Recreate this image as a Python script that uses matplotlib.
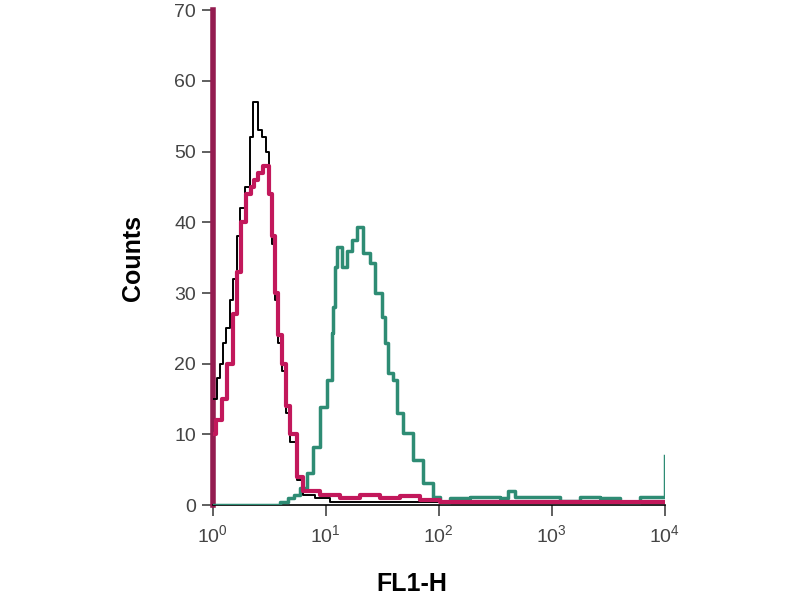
import matplotlib
matplotlib.use("Agg")
import matplotlib.pyplot as plt

plt.rcParams["font.family"] = ["Liberation Sans", "DejaVu Sans"]
plt.rcParams["mathtext.fontset"] = "custom"
plt.rcParams["mathtext.rm"] = "Liberation Sans"
plt.rcParams["mathtext.it"] = "Liberation Sans"

# FL1-H channel values (left bin edges) and counts
black_x = [1.00, 1.08, 1.15, 1.22, 1.30, 1.41, 1.50, 1.63, 1.73, 1.92, 2.13, 2.26, 2.50,
           2.71, 2.98, 3.15, 3.35, 3.55, 3.75, 4.10, 4.45, 4.80, 5.54, 6.25, 8.0, 10.8, 10000]
black_counts = [15, 18, 20, 23, 25, 29, 32, 38, 42, 45, 52, 57, 53,
                52, 50, 44, 37, 29, 23, 19, 13, 9, 3.5, 1.5, 1, 0.4, 0.4]

pink_x = [1.00, 1.06, 1.20, 1.33, 1.50, 1.65, 1.78, 1.96, 2.16, 2.33, 2.51, 2.77, 2.98,
          3.15, 3.35, 3.55, 3.75, 4.10, 4.45, 4.80, 5.54, 6.25, 8.85, 13.3, 20.0, 30.0,
          45.0, 68.0, 102, 10000]
pink_counts = [10, 12, 15, 20, 27, 33, 40, 44, 45, 46, 47, 48, 48,
               44, 38, 30, 24, 20, 14, 10, 4, 2, 1.5, 1, 1.5, 1,
               1.3, 0.8, 0.5, 0.5]

green_x = [1.00, 3.92, 4.6, 5.2, 5.89, 6.79, 7.67, 8.85, 10.2, 11.3, 11.5, 12.0, 12.5,
           13.9, 15.3, 17.0, 18.8, 21.2, 24.5, 27.2, 31.3, 33.3, 35.4, 39.2, 42.5,
           48.0, 58.9, 72.1, 88.5, 102, 125, 188, 347, 408, 471, 1178, 1770, 2660,
           4000, 6010, 9030, 10000]
green_counts = [0, 0.5, 1, 1.5, 2.5, 4.5, 8.2, 13.9, 17.7, 24.3, 28, 33.7, 36.5,
                33.7, 36, 37.5, 39.3, 35.6, 34.2, 30, 26.6, 23, 18.7, 17.7, 13,
                10.2, 6.4, 3.1, 1.1, 0.4, 1, 1.2, 1, 2, 1.2, 0.6, 1.2, 1,
                0.5, 1.2, 1.2, 7]

y_ticks = [0, 10, 20, 30, 40, 50, 60, 70]
x_ticks = [1, 10, 100, 1000, 10000]
x_tick_labels = ["$10^{0}$", "$10^{1}$", "$10^{2}$", "$10^{3}$", "$10^{4}$"]

fig = plt.figure(figsize=(8, 6), dpi=100)
ax = fig.add_axes([0.266, 0.158, 0.565, 0.825])

ax.step(green_x, green_counts, where="post", color="#2e8c74", lw=2.5, zorder=3)
ax.step(black_x, black_counts, where="post", color="black", lw=1.4, zorder=4)
ax.step(pink_x, pink_counts, where="post", color="#c2185b", lw=3, zorder=5)

ax.set_xscale("log")
ax.set_xlim(1, 10000)
ax.set_ylim(0, 70)
ax.set_yticks(y_ticks)
ax.set_xticks(x_ticks)
ax.set_xticklabels(x_tick_labels)
ax.minorticks_off()

for s in ["top", "right"]:
    ax.spines[s].set_visible(False)
ax.spines["left"].set_color("#941c50")
ax.spines["left"].set_linewidth(4)
ax.spines["bottom"].set_color("black")
ax.spines["bottom"].set_linewidth(1.2)

ax.tick_params(axis="y", direction="out", length=8, width=1.2, colors="#444444",
               labelsize=14, pad=4)
ax.tick_params(axis="x", direction="out", length=8, width=1.2, colors="#444444",
               labelsize=14, pad=6)

ax.set_ylabel("Counts", fontsize=18, fontweight="bold")
ax.yaxis.set_label_coords(-0.15, 0.5)
ax.set_xlabel("FL1-H", fontsize=18, fontweight="bold")
ax.xaxis.set_label_coords(0.44, -0.135)

fig.savefig("out.png", dpi=100)
